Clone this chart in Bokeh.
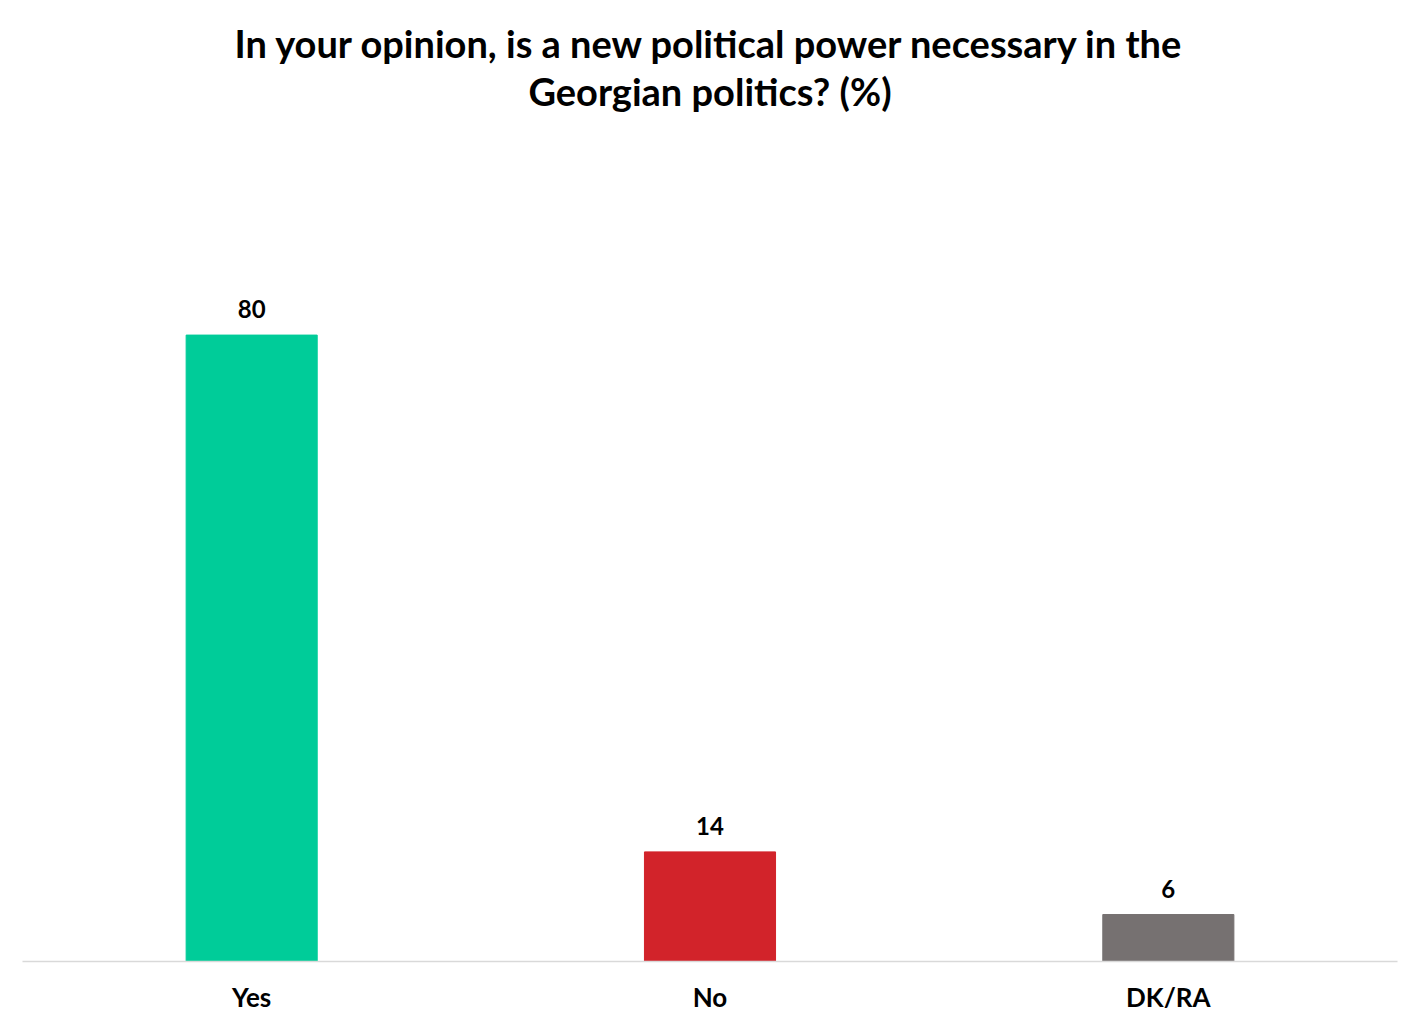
from bokeh.plotting import figure
from bokeh.models import ColumnDataSource, LabelSet, Range1d, Title
from bokeh.core.properties import value
from bokeh.embed import file_html
from bokeh.resources import INLINE

categories = ["Yes", "No", "DK/RA"]
values = [80, 14, 6]
colors = ["#00CC99", "#D2232A", "#767171"]
labels = [str(v) for v in values]
title_lines = ["In your opinion, is a new political power necessary in the",
               "Georgian politics? (%)"]

src = ColumnDataSource(dict(cat=categories, val=values, color=colors, lab=labels))

FONT = "Lato"
p = figure(x_range=categories, y_range=Range1d(0, 108.3), width=1404, height=1015,
           output_backend="svg", toolbar_location=None,
           min_border_left=22, min_border_right=7, min_border_bottom=45, min_border_top=0)
p.title = None
for t in reversed(title_lines):
    p.add_layout(Title(text=t, align="center", text_font=FONT,
                       text_font_size="38px", text_font_style="bold", text_color="#000000",
                       standoff=0), "above")
p.add_layout(Title(text=" ", text_font_size="13px", standoff=0), "above")

p.vbar(x="cat", top="val", width=0.286, color="color", source=src)
p.add_layout(LabelSet(x="cat", y="val", text="lab", source=src, y_offset=17,
                      text_align="center", text_baseline="bottom", text_font=value(FONT),
                      text_font_size="24px", text_font_style="bold", text_color="#000000"))

p.yaxis.visible = False
p.xgrid.grid_line_color = None
p.ygrid.grid_line_color = None
p.outline_line_color = None
p.xaxis.axis_line_color = "#D9D9D9"
p.xaxis.axis_line_width = 1.5
p.xaxis.major_tick_line_color = None
p.xaxis.minor_tick_line_color = None
p.xaxis.major_label_standoff = 13
p.xaxis.major_label_text_font = FONT
p.xaxis.major_label_text_font_size = "26px"
p.xaxis.major_label_text_font_style = "bold"
p.xaxis.major_label_text_color = "#000000"
p.x_range.range_padding = 0

open("out.html", "w").write(file_html(p, INLINE))
